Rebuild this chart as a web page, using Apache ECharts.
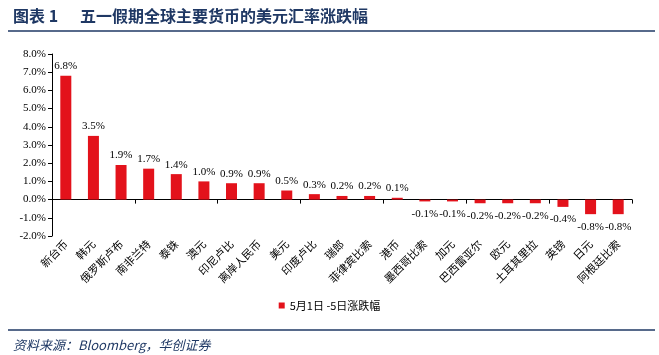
<!DOCTYPE html>
<html>
<head>
<meta charset="utf-8">
<script src="https://cdn.jsdelivr.net/npm/echarts@6/dist/echarts.min.js"></script>
<style>
	html, body { margin: 0; padding: 0; background: #fff; }
	#chart { width: 659px; height: 355px; }
</style>
</head>
<body>
<div id="chart"></div>
<script>
// 币种
var categories = ['新台币', '韩元', '俄罗斯卢布', '南非兰特', '泰铢', '澳元', '印尼卢比', '离岸人民币', '美元', '印度卢比',
	'瑞郎', '菲律宾比索', '港币', '墨西哥比索', '加元', '巴西雷亚尔', '欧元', '土耳其里拉', '英镑', '日元', '阿根廷比索'];
// 5月1日-5日涨跌幅(%)
var changes = [6.8, 3.5, 1.9, 1.7, 1.4, 1.0, 0.9, 0.9, 0.5, 0.3,
	0.2, 0.2, 0.1, -0.1, -0.1, -0.2, -0.2, -0.2, -0.4, -0.8, -0.8];
var seriesName = '5月1日 -5日涨跌幅';

var serif = '"Liberation Serif", "Noto Sans CJK SC", serif';
var cjk = '"Noto Sans CJK SC", sans-serif';
var navy = '#1F3864';

var barData = changes.map(function(v) {
	return {
		value: v,
		label: {
			position: v < 0 ? 'bottom' : 'top',
			distance: v < 0 ? 7 : 4
		}
	};
});

var chart = echarts.init(document.getElementById('chart'));
chart.setOption({
	animation: false,
	backgroundColor: '#fff',
	title: [{
		text: '图表 1',
		left: 8,
		top: 3,
		textStyle: { fontFamily: cjk, fontSize: 16, fontWeight: 'bold', color: navy }
	}, {
		text: '五一假期全球主要货币的美元汇率涨跌幅',
		left: 75,
		top: 3,
		textStyle: { fontFamily: cjk, fontSize: 16, fontWeight: 'bold', color: navy }
	}, {
		text: '资料来源：Bloomberg，华创证券',
		left: 8,
		top: 334,
		textStyle: { fontFamily: cjk, fontSize: 13, fontWeight: 'normal', fontStyle: 'italic', color: navy }
	}],
	graphic: [{
		type: 'line',
		shape: { x1: 8, y1: 31, x2: 655, y2: 31 },
		style: { stroke: navy, lineWidth: 1.5 }
	}, {
		type: 'line',
		shape: { x1: 8, y1: 330, x2: 655, y2: 330 },
		style: { stroke: navy, lineWidth: 1.5 }
	}],
	legend: {
		left: 'center',
		top: 295,
		itemWidth: 6,
		itemHeight: 6,
		icon: 'rect',
		textStyle: { fontFamily: cjk, fontSize: 11, color: '#000' },
		data: [seriesName]
	},
	grid: {
		left: 52,
		right: 27,
		top: 54,
		bottom: 119
	},
	xAxis: [{
		type: 'category',
		data: categories,
		axisLine: { onZero: true, lineStyle: { color: '#000' } },
		axisTick: { show: true, length: 4, lineStyle: { color: '#000' } },
		axisLabel: { show: false }
	}, {
		type: 'category',
		data: categories,
		position: 'bottom',
		axisLine: { show: false },
		axisTick: { show: false },
		axisLabel: {
			rotate: 45,
			margin: 6,
			interval: 0,
			fontFamily: cjk,
			fontSize: 11,
			color: '#000'
		}
	}],
	yAxis: {
		type: 'value',
		min: -2,
		max: 8,
		interval: 1,
		axisLine: { show: true, lineStyle: { color: '#000' } },
		axisTick: { show: true, length: 4, lineStyle: { color: '#000' } },
		splitLine: { show: false },
		axisLabel: {
			fontFamily: serif,
			fontSize: 11,
			color: '#000',
			margin: 6,
			formatter: function(v) {
				return v.toFixed(1) + '%';
			}
		}
	},
	series: [{
		name: seriesName,
		type: 'bar',
		xAxisIndex: 0,
		barWidth: 11,
		itemStyle: { color: '#E3121B' },
		label: {
			show: true,
			fontFamily: serif,
			fontSize: 11,
			color: '#000',
			formatter: function(p) {
				return p.value.toFixed(1) + '%';
			}
		},
		data: barData
	}]
});
</script>
</body>
</html>
